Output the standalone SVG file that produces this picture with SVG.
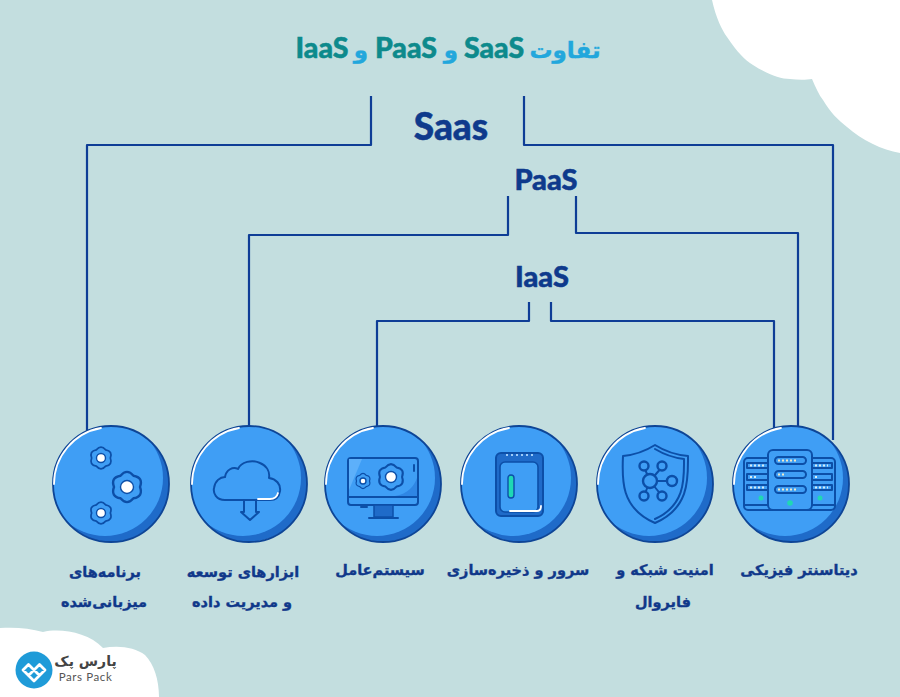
<svg xmlns="http://www.w3.org/2000/svg" xmlns:xlink="http://www.w3.org/1999/xlink" width="900" height="697" viewBox="0 0 900 697">
<style>
.wire{fill:none;stroke:#0e3d96;stroke-width:2.200;stroke-linejoin:round}
.ic{fill:none;stroke:#0c4fa8;stroke-width:2;stroke-linejoin:round;stroke-linecap:round}
.g{fill:#3f9ef5;stroke:#0c4fa8;stroke-width:2.400;stroke-linejoin:round}
.dot{fill:#fff;stroke:#0c4fa8;stroke-width:1.400}
.hl{fill:none;stroke:#fff;stroke-width:1.800;stroke-linecap:round}
.grn{fill:#1fd8b4}
.lab{font-family:"DejaVu Sans",sans-serif;font-weight:700;font-size:14.5px;fill:#10388a;stroke:#10388a;stroke-width:.35;text-anchor:middle;direction:rtl}
.hd{font-family:"Lato","Inter",sans-serif;font-weight:900;fill:#0e3a8c;stroke:#0e3a8c;stroke-width:.5;text-anchor:middle}
.tl{font-family:"Lato","Inter",sans-serif;font-weight:900;font-size:28.500px;fill:#0d8a8c;stroke:#0d8a8c;stroke-width:.5;text-anchor:middle}
.tf{font-family:"DejaVu Sans",sans-serif;font-weight:700;font-size:23px;fill:#22a7dc;stroke:#22a7dc;stroke-width:.4;text-anchor:middle;direction:rtl}
</style>
<defs>
<path id="gear" d="M-6.500,-11.300Q0,-19 6.500,-11.300Q16.500,-9.500 13,0Q16.500,9.500 6.500,11.300Q0,19 -6.500,11.300Q-16.500,9.500 -13,0Q-16.500,-9.500 -6.500,-11.300Z"/>
<clipPath id="cc"><circle r="58"/></clipPath>
<g id="badge">
<circle r="58" fill="#1f6bc9"/>
<g clip-path="url(#cc)"><circle cx="-6" cy="-6" r="58" fill="#3f9ef5"/></g>
<circle r="58" fill="none" stroke="#0e4596" stroke-width="1.800"/>
<path class="hl" d="M-57,0A57,57 0 0 1 -10,-56"/>
</g>
</defs>
<rect width="900" height="697" fill="#c3dedf"/>
<path fill="#fff" d="M712,0C716,18 722,30 727,37C737,52 745,60 753,65C767,74 780,79 790,79C798,80 806,80 812,79C816,88 819,95 823,100C830,112 838,120 847,127C862,140 882,150 900,153V0Z"/>
<path fill="#fff" d="M0,628C14,627 30,628 43,632C60,628 88,632 103,648C118,645 135,647 145,655C154,664 159,680 159,697H0Z"/>
<g id="title">
<text class="tl" x="322" y="58">IaaS</text>
<text class="tf" x="361" y="58">و</text>
<text class="tl" x="406" y="58">PaaS</text>
<text class="tf" x="451" y="58">و</text>
<text class="tl" x="494" y="58">SaaS</text>
<text class="tf" x="565" y="58">تفاوت</text>
</g>
<g id="connectors">
<path class="wire" d="M371,96V145H87V432"/>
<path class="wire" d="M524,96V145H833V440"/>
<path class="wire" d="M508,196V235H249V427"/>
<path class="wire" d="M576,196V233H798V428"/>
<path class="wire" d="M529,302V321H377V428"/>
<path class="wire" d="M551,302V321H774V431"/>
</g>
<g id="layer-saas"><text class="hd" x="451" y="140" font-size="37">Saas</text></g>
<g id="layer-paas"><text class="hd" x="546" y="190" font-size="29">PaaS</text></g>
<g id="layer-iaas"><text class="hd" x="542" y="287" font-size="29">IaaS</text></g>

<g id="node-apps">
<use xlink:href="#badge" href="#badge" x="111" y="484"/>
<use xlink:href="#gear" href="#gear" class="g" transform="translate(127,487) scale(1)"/>
<circle class="dot" cx="127" cy="487" r="6.500"/>
<use xlink:href="#gear" href="#gear" class="g" transform="translate(101,458) scale(.72)"/>
<circle class="dot" cx="101" cy="458" r="4.500"/>
<use xlink:href="#gear" href="#gear" class="g" transform="translate(101,513) scale(.72)"/>
<circle class="dot" cx="101" cy="513" r="4.500"/>
<text class="lab" x="105" y="577">برنامه‌های</text>
<text class="lab" x="104" y="607">میزبانی‌شده</text>
</g>

<g id="node-tools">
<use xlink:href="#badge" href="#badge" x="249" y="484"/>
<path class="ic" d="M225,500C216,500 213,493 214,488C215,481 220,477 225,477C226,470 233,466 238,469C241,462 252,459 260,463C267,466 270,472 269,478C276,479 281,484 280,491C279,497 275,500 270,500Z"/>
<path class="ic" stroke-width="1.600" d="M244,500V512H241L250,520L259,512H256V500"/>
<path class="hl" stroke-width="1" d="M258,499H270C274,499 277,497 278,493"/>
<text class="lab" x="243" y="577">ابزارهای توسعه</text>
<text class="lab" x="242" y="607">و مدیریت داده</text>
</g>

<g id="node-os">
<use xlink:href="#badge" href="#badge" x="383" y="484"/>
<rect class="ic" x="348" y="458" width="70" height="47" rx="3"/>
<path fill="#5db0fa" d="M349,459H362L349,490Z"/>
<path fill="#2f86e4" d="M395,496C408,494 414,486 417,478V496Z"/>
<path class="ic" d="M348,497H418M414,465V471"/>
<rect x="374" y="505" width="19" height="12" fill="#1f6bc9" stroke="#0c4fa8" stroke-width="1.500"/>
<path class="ic" d="M369,518H398M361,507H367"/>
<use xlink:href="#gear" href="#gear" class="g" transform="translate(391,477) scale(.85)"/>
<circle class="dot" cx="391" cy="477" r="5.500"/>
<use xlink:href="#gear" href="#gear" class="g" transform="translate(363,481) scale(.5)"/>
<circle class="dot" cx="363" cy="481" r="3"/>
<text class="lab" x="380" y="575">سیستم‌عامل</text>
</g>

<g id="node-storage">
<use xlink:href="#badge" href="#badge" x="519" y="484"/>
<rect x="496" y="453" width="47" height="63" rx="5" fill="#1f6bc9" stroke="#0c4fa8" stroke-width="2"/>
<rect x="500" y="462" width="38" height="50" rx="5" fill="#3f9ef5" stroke="#0c4fa8" stroke-width="1.600"/>
<path d="M506,455H534" stroke="#9ccbf8" stroke-width="2" stroke-dasharray="2 3" fill="none"/>
<rect class="grn" x="508" y="475" width="6" height="23" rx="3" stroke="#0c4fa8" stroke-width="1.400"/>
<path class="hl" d="M510,511H537C540,511 541,509 541,506"/>
<text class="lab" x="518" y="575">سرور و ذخیره‌سازی</text>
</g>

<g id="node-firewall">
<use xlink:href="#badge" href="#badge" x="655" y="484"/>
<path class="ic" d="M655,445C666,452 677,455 688,456C688,478 690,508 655,523C620,508 622,478 623,456C633,455 644,452 655,445Z"/>
<path class="ic" stroke-width="1.200" d="M655,449C665,455 675,458 684,459C684,478 686,505 655,519"/>
<path class="ic" d="M650,481L644,467M650,481L662,467M650,481H672M650,481L644,496M650,481L662,496"/>
<circle cx="650" cy="481" r="7" class="g"/>
<circle cx="644" cy="466" r="4.500" class="g"/><circle cx="662" cy="466" r="4.500" class="g"/><circle cx="672" cy="481" r="5" class="g"/><circle cx="644" cy="496" r="4.500" class="g"/><circle cx="662" cy="496" r="4.500" class="g"/>
<text class="lab" x="665" y="575">امنیت شبکه و</text>
<text class="lab" x="663" y="607">فایروال</text>
</g>

<g id="node-datacenter">
<use xlink:href="#badge" href="#badge" x="791" y="484"/>
<rect x="744" y="458" width="91" height="52" rx="4" fill="#3f9ef5" stroke="#0c4fa8" stroke-width="2"/>
<path class="ic" d="M744,505H835"/>
<path class="ic" d="M747,463H768V468H747ZM747,474H768V480H747ZM747,485H768V490H747ZM812,463H832V468H812ZM812,474H832V480H812ZM812,485H832V490H812Z"/>
<rect x="768" y="450" width="44" height="60" rx="5" fill="#3f9ef5" stroke="#0c4fa8" stroke-width="2"/>
<rect class="ic" x="775" y="457" width="31" height="7" rx="3.500"/>
<rect class="ic" x="775" y="471" width="31" height="7" rx="3.500"/>
<rect class="ic" x="775" y="486" width="31" height="7" rx="3.500"/>
<path d="M778,460.500H797M778,474.500H784M778,489.500H797" stroke="#f2e9c6" stroke-width="2" stroke-dasharray="2 2" fill="none"/>
<path d="M750,465.500H766M750,477H758M750,487.500H766M815,465.500H828M815,477H819M815,487.500H828" stroke="#d9ecf2" stroke-width="2" stroke-dasharray="2 2" fill="none"/>
<circle class="grn" cx="790" cy="503" r="2.800"/><circle class="grn" cx="761" cy="498" r="2.500"/><circle class="grn" cx="820" cy="498" r="2.500"/>
<text class="lab" x="799" y="575">دیتاسنتر فیزیکی</text>
</g>

<g id="logo">
<circle cx="34" cy="670" r="18.500" fill="#1f9bd8"/>
<path fill="none" stroke="#fff" stroke-width="2.800" stroke-linejoin="round" d="M34,681L23,670L28.500,664.500L34,670L39.500,664.500L45,670ZM28.500,675.500L34,670L39.500,675.500"/>
<text x="85.500" y="666" font-family="DejaVu Sans,sans-serif" font-size="14" font-weight="700" fill="#444" text-anchor="middle" direction="rtl">پارس پک</text>
<text x="85.500" y="681" font-family="Lato,sans-serif" font-size="11.500" letter-spacing=".6" fill="#555" text-anchor="middle">Pars Pack</text>
</g>
</svg>
